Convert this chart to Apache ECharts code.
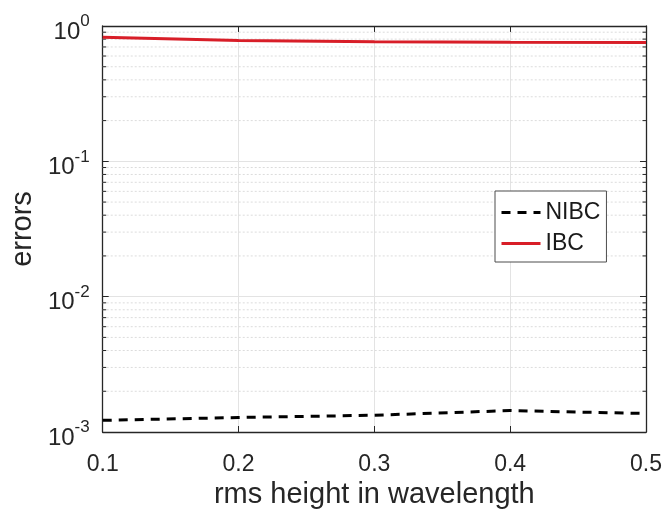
<!DOCTYPE html>
<html>
<head>
<meta charset="utf-8">
<script src="https://cdn.jsdelivr.net/npm/echarts@6/dist/echarts.min.js"></script>
<style>
  html, body { margin: 0; padding: 0; background: #ffffff; }
  #chart { width: 667px; height: 516px; }
</style>
</head>
<body>
<div id="chart"></div>
<script>
// rms height (in wavelengths) sampled along the x axis
const heights = [0.1, 0.2, 0.3, 0.4, 0.5];
// error levels for the two boundary conditions
const nibcErrors = [1.22e-3, 1.28e-3, 1.33e-3, 1.44e-3, 1.37e-3];
const ibcErrors = [0.825, 0.78, 0.765, 0.758, 0.755];
// minor log grid positions (2..9 within each decade)
const minorLevels = [
  2e-3, 3e-3, 4e-3, 5e-3, 6e-3, 7e-3, 8e-3, 9e-3,
  2e-2, 3e-2, 4e-2, 5e-2, 6e-2, 7e-2, 8e-2, 9e-2,
  2e-1, 3e-1, 4e-1, 5e-1, 6e-1, 7e-1, 8e-1, 9e-1
];

const axisColor = '#262626';
const gridColor = '#e3e3e3';
const font = 'Liberation Sans, Arial, Helvetica, sans-serif';

const chart = echarts.init(document.getElementById('chart'), null, { renderer: 'canvas' });

function pairs(xs, ys) { return xs.map((x, i) => [x, ys[i]]); }

const option = {
  animation: false,
  backgroundColor: '#ffffff',
  grid: { left: 101, top: 26, right: 21, bottom: 84, containLabel: false },
  xAxis: [{
    type: 'value', min: 0.1, max: 0.5, interval: 0.1,
    name: 'rms height in wavelength', nameLocation: 'middle', nameGap: 46,
    nameTextStyle: { fontSize: 29, color: axisColor, fontFamily: font },
    axisLine: { show: true, onZero: false, lineStyle: { color: axisColor, width: 1.3 } },
    axisTick: { show: true, inside: true, length: 6, lineStyle: { color: axisColor } },
    axisLabel: { fontSize: 23, color: axisColor, fontFamily: font, margin: 21,
      formatter: v => v.toFixed(1) },
    splitLine: { show: true, lineStyle: { color: gridColor, width: 1 } }
  }, {
    type: 'value', position: 'top', min: 0.1, max: 0.5, interval: 0.1,
    axisLine: { show: true, onZero: false, lineStyle: { color: axisColor, width: 1.3 } },
    axisTick: { show: true, inside: true, length: 6, lineStyle: { color: axisColor } },
    axisLabel: { show: false }, splitLine: { show: false }
  }],
  yAxis: [{
    type: 'log', logBase: 10, min: 1e-3, max: 1,
    name: 'errors', nameLocation: 'middle', nameGap: 64, nameRotate: 90,
    nameTextStyle: { fontSize: 29, color: axisColor, fontFamily: font },
    axisLine: { show: true, onZero: false, lineStyle: { color: axisColor, width: 1.3 } },
    axisTick: { show: true, inside: true, length: 6, lineStyle: { color: axisColor } },
    axisLabel: {
      margin: 13, color: axisColor, fontFamily: font,
      formatter: v => '{b|10}{s|' + Math.round(Math.log10(v)) + '}',
      rich: {
        b: { fontSize: 24, color: axisColor, fontFamily: font, padding: [12, 0, 0, 0] },
        s: { fontSize: 17, color: axisColor, fontFamily: font, padding: [0, 0, 9, 0] }
      }
    },
    splitLine: { show: true, lineStyle: { color: gridColor, width: 1 } }
  }, {
    type: 'log', logBase: 10, min: 1e-3, max: 1, position: 'right',
    axisLine: { show: true, onZero: false, lineStyle: { color: axisColor, width: 1.3 } },
    axisTick: { show: true, inside: true, length: 6, lineStyle: { color: axisColor } },
    axisLabel: { show: false }, splitLine: { show: false }
  }],
  legend: {
    orient: 'vertical', left: 495, top: 191,
    itemWidth: 39, itemHeight: 14, itemGap: 8,
    padding: [10, 6, 7, 5],
    backgroundColor: '#ffffff', borderColor: '#4d4d4d', borderWidth: 1,
    itemStyle: { opacity: 0 },
    lineStyle: { width: 3 },
    textStyle: { fontSize: 23, color: '#1a1a1a', fontFamily: font },
    data: ['NIBC', 'IBC']
  },
  series: [{
    // dotted minor grid and minor ticks at 2..9 in each decade
    type: 'custom', silent: true, z: 1,
    data: minorLevels.map(v => [heights[0], v]),
    renderItem: function (params, api) {
      const y = api.value(1);
      const p0 = api.coord([heights[0], y]);
      const p1 = api.coord([heights[heights.length - 1], y]);
      return {
        type: 'group',
        children: [{
          type: 'line', shape: { x1: p0[0], y1: p0[1], x2: p1[0], y2: p1[1] },
          style: { stroke: '#dcdcdc', lineWidth: 1, lineDash: [2, 2] }
        }, {
          type: 'line', shape: { x1: p0[0], y1: p0[1], x2: p0[0] + 3.5, y2: p0[1] },
          style: { stroke: axisColor, lineWidth: 1 }
        }, {
          type: 'line', shape: { x1: p1[0] - 3.5, y1: p1[1], x2: p1[0], y2: p1[1] },
          style: { stroke: axisColor, lineWidth: 1 }
        }]
      };
    }
  }, {
    name: 'NIBC', type: 'line', z: 3,
    data: pairs(heights, nibcErrors),
    symbol: 'none', showSymbol: false,
    lineStyle: { color: '#000000', width: 3, type: [9, 7] },
    itemStyle: { color: '#000000' }
  }, {
    name: 'IBC', type: 'line', z: 3,
    data: pairs(heights, ibcErrors),
    symbol: 'none', showSymbol: false,
    lineStyle: { color: '#d81e28', width: 3 },
    itemStyle: { color: '#d81e28' }
  }]
};

chart.setOption(option);
</script>
</body>
</html>
